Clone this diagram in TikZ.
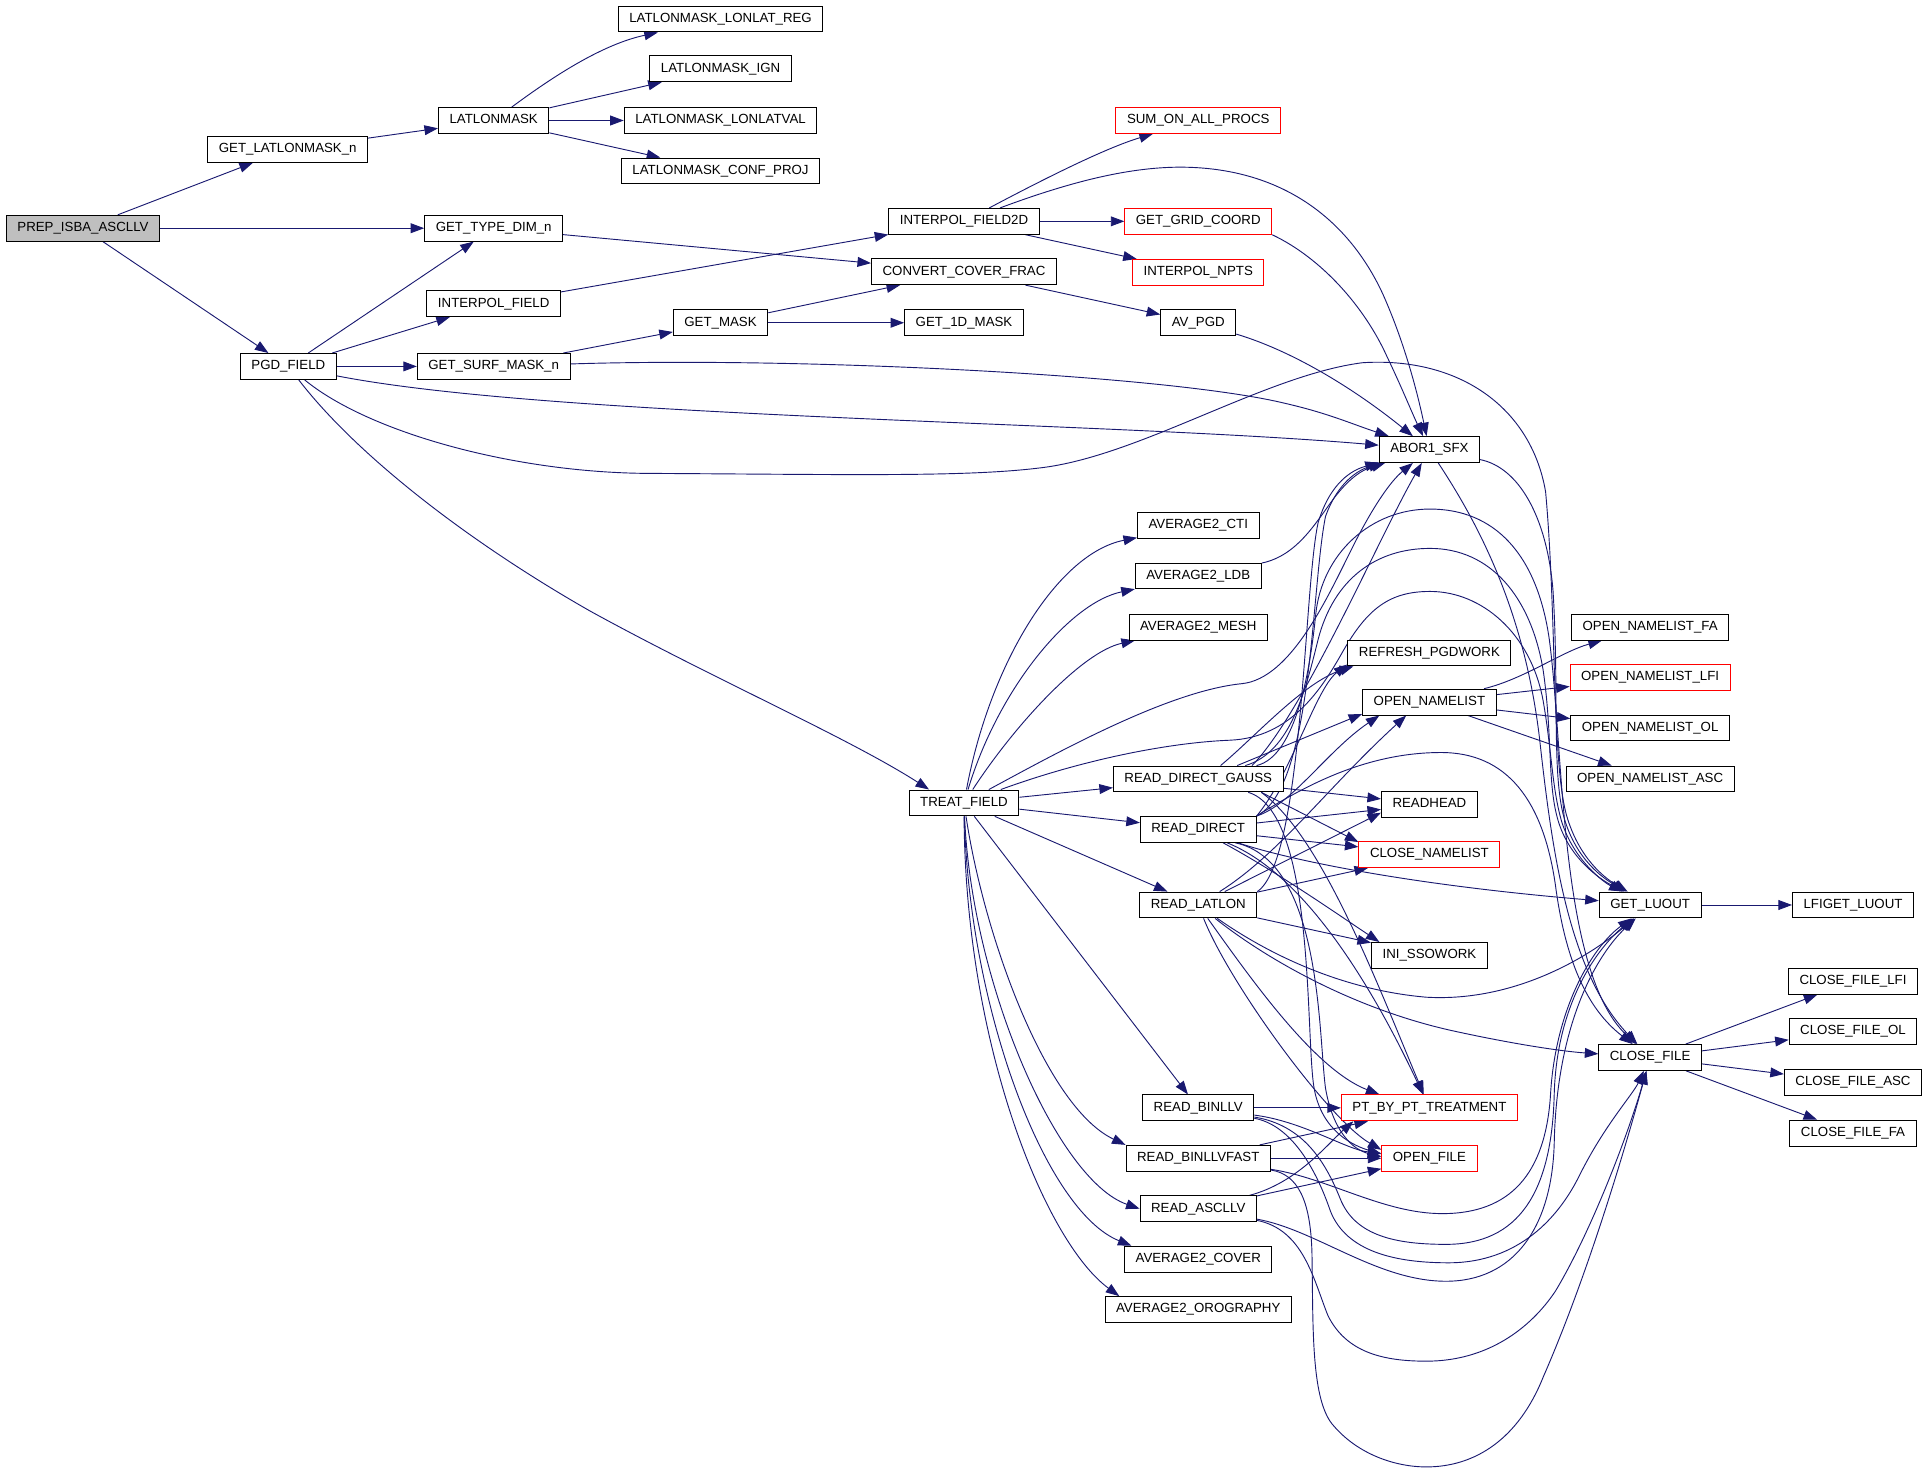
\documentclass[tikz,border=0pt]{standalone}
\usepackage{fontspec}
\setmainfont{Liberation Sans}
\usetikzlibrary{arrows.meta}
\definecolor{edgeblue}{HTML}{191970}
\definecolor{rootgray}{HTML}{BFBFBF}
\newcommand{\nodefont}{\fontsize{10.8pt}{12.8pt}\selectfont}
\pgfdeclarelayer{edgelayer}
\pgfsetlayers{edgelayer,main}
\tikzset{
  fn/.style={draw=black, fill=white, line width=0.8pt, minimum height=21pt, inner xsep=9pt, inner ysep=0pt, text height=7.8pt, text depth=2.4pt, font=\nodefont},
  rfn/.style={fn, draw=red},
  rootn/.style={fn, fill=rootgray},
  edg/.style={draw=edgeblue, line width=0.75pt, -{Triangle[length=11pt,width=8pt]}}
}
\begin{document}
\begin{tikzpicture}[x=1pt,y=-1pt]
\useasboundingbox (0,0) rectangle (1568,1196.3);
% ---- nodes
\node[rootn] (prep) at (67.5,185.6) {PREP\_ISBA\_ASCLLV};
\node[fn] (getll) at (234,121.5) {GET\_LATLONMASK\_n};
\node[fn] (llm) at (401.5,98) {LATLONMASK};
\node[fn] (llreg) at (586,15.5) {LATLONMASK\_LONLAT\_REG};
\node[fn] (llign) at (586,56) {LATLONMASK\_IGN};
\node[fn] (llval) at (586,98) {LATLONMASK\_LONLATVAL};
\node[fn] (llconf) at (586,139) {LATLONMASK\_CONF\_PROJ};
\node[fn] (gtd) at (401.5,185.6) {GET\_TYPE\_DIM\_n};
\node[fn] (ipf) at (401.5,247) {INTERPOL\_FIELD};
\node[fn] (gsm) at (401.5,298) {GET\_SURF\_MASK\_n};
\node[fn] (pgd) at (234.5,298) {PGD\_FIELD};
\node[fn] (gmask) at (586,262.5) {GET\_MASK};
\node[fn] (ipf2) at (784,180) {INTERPOL\_FIELD2D};
\node[fn] (ccf) at (784,221) {CONVERT\_COVER\_FRAC};
\node[fn] (g1d) at (784,262.5) {GET\_1D\_MASK};
\node[rfn] (sum) at (974.5,98) {SUM\_ON\_ALL\_PROCS};
\node[rfn] (ggc) at (974.5,180) {GET\_GRID\_COORD};
\node[rfn] (inpts) at (974.5,221.5) {INTERPOL\_NPTS};
\node[fn] (avpgd) at (974.5,262.5) {AV\_PGD};
\node[fn] (abor) at (1162.5,365.6) {ABOR1\_SFX};
\node[fn] (treat) at (784,653) {TREAT\_FIELD};
\node[fn] (cti) at (974.5,427.5) {AVERAGE2\_CTI};
\node[fn] (ldb) at (974.5,468.5) {AVERAGE2\_LDB};
\node[fn] (mesh) at (974.5,510) {AVERAGE2\_MESH};
\node[fn] (rdg) at (974.5,633.5) {READ\_DIRECT\_GAUSS};
\node[fn] (rd) at (974.5,674.5) {READ\_DIRECT};
\node[fn] (rll) at (974.5,736) {READ\_LATLON};
\node[fn] (rbin) at (974.5,901) {READ\_BINLLV};
\node[fn] (rbinf) at (974.5,942) {READ\_BINLLVFAST};
\node[fn] (rasc) at (974.5,983) {READ\_ASCLLV};
\node[fn] (cover) at (974.5,1024) {AVERAGE2\_COVER};
\node[fn] (oro) at (974.5,1065) {AVERAGE2\_OROGRAPHY};
\node[fn] (refresh) at (1162.5,531) {REFRESH\_PGDWORK};
\node[fn] (onl) at (1162.5,571) {OPEN\_NAMELIST};
\node[fn] (rhead) at (1162.5,654) {READHEAD};
\node[rfn] (cnl) at (1162.5,695) {CLOSE\_NAMELIST};
\node[fn] (ini) at (1162.5,777) {INI\_SSOWORK};
\node[rfn] (ptpt) at (1162.5,901) {PT\_BY\_PT\_TREATMENT};
\node[rfn] (ofile) at (1162.5,942) {OPEN\_FILE};
\node[fn] (onlfa) at (1342,510) {OPEN\_NAMELIST\_FA};
\node[rfn] (onllfi) at (1342,551) {OPEN\_NAMELIST\_LFI};
\node[fn] (onlol) at (1342,592) {OPEN\_NAMELIST\_OL};
\node[fn] (onlasc) at (1342,633.5) {OPEN\_NAMELIST\_ASC};
\node[fn] (luout) at (1342,736) {GET\_LUOUT};
\node[fn] (lfig) at (1507,736) {LFIGET\_LUOUT};
\node[fn] (cfile) at (1342,860) {CLOSE\_FILE};
\node[fn] (cflfi) at (1507,798) {CLOSE\_FILE\_LFI};
\node[fn] (cfol) at (1507,839) {CLOSE\_FILE\_OL};
\node[fn] (cfasc) at (1507,880.5) {CLOSE\_FILE\_ASC};
\node[fn] (cffa) at (1507,921.5) {CLOSE\_FILE\_FA};
\begin{pgfonlayer}{edgelayer}
% ---- edges, left part
\draw[edg] (prep) -- (getll);
\draw[edg] (prep) -- (gtd);
\draw[edg] (prep) -- (pgd);
\draw[edg] (getll) -- (llm);
\draw[edg] (llm) .. controls (450,62) and (490,36) .. (llreg);
\draw[edg] (llm) -- (llign);
\draw[edg] (llm) -- (llval);
\draw[edg] (llm) -- (llconf);
\draw[edg] (gtd) -- (ccf);
\draw[edg] (pgd) -- (gtd);
\draw[edg] (pgd) -- (ipf);
\draw[edg] (pgd) -- (gsm);
\draw[edg] (pgd) .. controls (450,340) and (900,343) .. (abor);
\draw[edg] (gsm) .. controls (650,290) and (950,305) .. (1045,328) .. controls (1080,336) and (1100,345) .. (abor);
\draw[edg] (pgd) .. controls (300,352) and (420,385) .. (530,385) .. controls (700,386) and (790,388) .. (850,380) .. controls (930,369) and (1030,305) .. (1108,295) .. controls (1185,290) and (1245,330) .. (1257,400) .. controls (1266,500) and (1262,620) .. (1274,663) .. controls (1284,698) and (1305,714) .. (luout);
\draw[edg] (pgd) .. controls (290,370) and (380,440) .. (480,497) .. controls (580,552) and (690,600) .. (treat.159);
\draw[edg] (ipf) -- (ipf2);
\draw[edg] (gsm) -- (gmask);
\draw[edg] (gmask) -- (ccf);
\draw[edg] (gmask) -- (g1d);
\draw[edg] (ipf2) .. controls (850,145) and (900,120) .. (sum);
\draw[edg] (ipf2) -- (ggc);
\draw[edg] (ipf2) -- (inpts);
\draw[edg] (ipf2) .. controls (870,148) and (920,135) .. (965,136) .. controls (1050,138) and (1100,185) .. (1125,240) .. controls (1145,285) and (1155,330) .. (abor);
\draw[edg] (ggc.south east) .. controls (1075,210) and (1110,250) .. (1128,290) .. controls (1140,315) and (1148,335) .. (abor);
\draw[edg] (ccf) -- (avpgd);
\draw[edg] (avpgd) .. controls (1050,285) and (1100,315) .. (abor);
% ---- TREAT_FIELD
\draw[edg] (treat) .. controls (805,540) and (860,450) .. (cti);
\draw[edg] (treat) .. controls (812,560) and (870,490) .. (ldb);
\draw[edg] (treat) .. controls (825,590) and (880,530) .. (mesh);
\draw[edg] (treat) .. controls (860,612) and (950,562) .. (1010,556) .. controls (1050,552) and (1080,485) .. (1100,445) .. controls (1115,415) and (1130,392) .. (abor);
\draw[edg] (treat) .. controls (880,618) and (950,604) .. (1000,602) .. controls (1050,600) and (1075,560) .. (1092,530) .. controls (1112,495) and (1130,481) .. (1163,481) .. controls (1205,481) and (1245,515) .. (1255,570) .. controls (1262,610) and (1262,640) .. (1270,668) .. controls (1280,700) and (1305,718) .. (luout);
\draw[edg] (treat) -- (rdg);
\draw[edg] (treat) -- (rd);
\draw[edg] (treat) -- (rll);
\draw[edg] (treat) -- (rbin);
\draw[edg] (treat) .. controls (800,760) and (850,900) .. (rbinf.north west);
\draw[edg] (treat) .. controls (790,800) and (860,960) .. (rasc.west);
\draw[edg] (treat) .. controls (788,820) and (850,985) .. ([xshift=6pt]cover.north west);
\draw[edg] (treat) .. controls (785,850) and (850,1010) .. ([xshift=12pt]oro.north west);
\draw[edg] (ldb) .. controls (1055,452) and (1070,425) .. (1085,405) .. controls (1095,392) and (1105,383) .. (abor);
% ---- READ_DIRECT_GAUSS
\draw[edg] (rdg.31) .. controls (1020,600) and (1060,555) .. (refresh.-170);
\draw[edg] (rdg.19) -- (onl.-170);
\draw[edg] (rdg.14) .. controls (1060,580) and (1120,440) .. (abor);
\draw[edg] (rdg) -- (rhead);
\draw[edg] (rdg.-12) -- (cnl.170);
\draw[edg] (rdg.-12) .. controls (1075,680) and (1120,800) .. (ptpt);
\draw[edg] (rdg.-15) .. controls (1068,660) and (1062,830) .. (1068,880) .. controls (1072,915) and (1095,930) .. (ofile.175);
\draw[edg] (rdg) .. controls (1055,615) and (1066,540) .. (1070,500) .. controls (1075,450) and (1115,414) .. (1163,414) .. controls (1215,414) and (1250,450) .. (1260,520) .. controls (1272,610) and (1268,790) .. (cfile);
\draw[edg] (rdg) .. controls (1050,612) and (1062,560) .. (1072,520) .. controls (1085,470) and (1120,446) .. (1163,446) .. controls (1212,446) and (1245,485) .. (1255,545) .. controls (1263,600) and (1258,640) .. (1268,670) .. controls (1278,700) and (1303,716) .. (luout);
% ---- READ_DIRECT
\draw[edg] (rd.north east) .. controls (1050,630) and (1070,560) .. (refresh.-172);
\draw[edg] (rd.north east) .. controls (1050,655) and (1080,610) .. (onl.-165);
\draw[edg] (rd.north east) .. controls (1068,640) and (1066,480) .. (1078,420) .. controls (1088,392) and (1105,382) .. (abor);
\draw[edg] (rd) -- (rhead);
\draw[edg] (rd) -- (cnl);
\draw[edg] (rd) .. controls (1050,700) and (1150,720) .. (luout);
\draw[edg] (rd) .. controls (1040,710) and (1090,745) .. (ini.165);
\draw[edg] (rd.-25) .. controls (1060,710) and (1115,800) .. (ptpt);
\draw[edg] (rd.-20) .. controls (1075,700) and (1072,840) .. (1078,885) .. controls (1084,920) and (1100,935) .. (ofile.178);
\draw[edg] (rd.north east) .. controls (1060,640) and (1110,612) .. (1172,612) .. controls (1225,612) and (1255,650) .. (1265,720) .. controls (1273,780) and (1290,820) .. (cfile);
% ---- READ_LATLON
\draw[edg] (rll.north east) .. controls (1060,700) and (1060,480) .. (1072,425) .. controls (1082,392) and (1100,382) .. (abor);
\draw[edg] (rll) .. controls (1040,695) and (1080,640) .. (onl.-150);
\draw[edg] (rll) -- (rhead.190);
\draw[edg] (rll) -- (cnl);
\draw[edg] (rll) -- (ini);
\draw[edg] (rll) .. controls (1030,775) and (1090,805) .. (1160,811) .. controls (1230,815) and (1290,780) .. (luout);
\draw[edg] (rll) .. controls (1030,780) and (1100,820) .. (1180,838) .. controls (1230,849) and (1270,855) .. (cfile);
\draw[edg] (rll) .. controls (1020,800) and (1070,870) .. (ptpt.165);
\draw[edg] (rll) .. controls (1000,800) and (1080,910) .. (ofile.170);
% ---- READ_BINLLV / FAST / ASCLLV
\draw[edg] (rbin) -- (ptpt);
\draw[edg] (rbin) .. controls (1060,912) and (1095,935) .. (ofile);
\draw[edg] (rbinf) -- (ptpt);
\draw[edg] (rbinf) -- (ofile);
\draw[edg] (rasc) .. controls (1055,962) and (1080,930) .. (ptpt.-170);
\draw[edg] (rasc) -- (ofile);
\draw[edg] (rbinf) .. controls (1080,958) and (1125,987) .. (1173,987) .. controls (1228,987) and (1257,955) .. (1261,890) .. controls (1265,820) and (1295,770) .. (luout);
\draw[edg] (rbin) .. controls (1060,915) and (1078,945) .. (1090,975) .. controls (1102,1005) and (1135,1012) .. (1176,1012) .. controls (1235,1012) and (1262,970) .. (1264,890) .. controls (1266,815) and (1300,770) .. (luout);
\draw[edg] (rbin) .. controls (1050,915) and (1070,950) .. (1082,985) .. controls (1095,1018) and (1135,1027) .. (1178,1027) .. controls (1235,1027) and (1268,990) .. (1285,955) .. controls (1305,915) and (1328,890) .. (cfile);
\draw[edg] (rasc) .. controls (1070,1000) and (1120,1042) .. (1176,1042) .. controls (1230,1042) and (1262,1000) .. (1264,930) .. controls (1266,830) and (1300,775) .. (luout);
\draw[edg] (rasc) .. controls (1060,1000) and (1068,1040) .. (1080,1070) .. controls (1095,1100) and (1125,1107) .. (1160,1107) .. controls (1210,1107) and (1245,1080) .. (1265,1050) .. controls (1295,1000) and (1325,920) .. (cfile);
\draw[edg] (rbinf) .. controls (1055,955) and (1066,975) .. (1067,1020) .. controls (1068,1080) and (1066,1140) .. (1085,1160) .. controls (1105,1183) and (1135,1193) .. (1160,1193) .. controls (1200,1193) and (1235,1170) .. (1255,1120) .. controls (1290,1040) and (1320,940) .. (cfile);
% ---- ABOR1_SFX
\draw[edg] (abor) .. controls (1235,380) and (1258,420) .. (1263,480) .. controls (1268,560) and (1262,630) .. (1272,665) .. controls (1282,700) and (1305,715) .. (luout);
\draw[edg] (abor) .. controls (1205,430) and (1240,500) .. (1252,600) .. controls (1262,690) and (1275,790) .. (cfile);
% ---- right columns
\draw[edg] (onl) .. controls (1240,552) and (1270,530) .. (onlfa);
\draw[edg] (onl) -- (onllfi);
\draw[edg] (onl) -- (onlol);
\draw[edg] (onl) -- (onlasc);
\draw[edg] (luout) -- (lfig);
\draw[edg] (cfile) -- (cflfi);
\draw[edg] (cfile) -- (cfol);
\draw[edg] (cfile) -- (cfasc);
\draw[edg] (cfile) -- (cffa);
\end{pgfonlayer}
\end{tikzpicture}
\end{document}
